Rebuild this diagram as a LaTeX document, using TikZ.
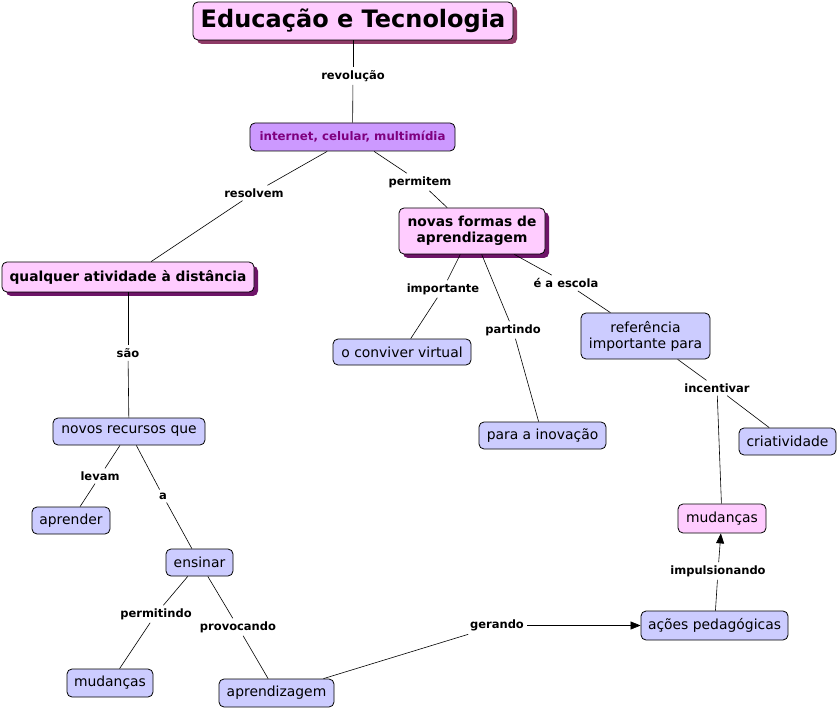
\documentclass[tikz,border=0pt]{standalone}
\usepackage{fontspec}
\setmainfont{DejaVu Sans}
\usetikzlibrary{arrows.meta,shadows}
\definecolor{pinkfill}{HTML}{FFCCFF}
\definecolor{bluefill}{HTML}{CCCCFF}
\definecolor{purplefill}{HTML}{CC99FF}
\definecolor{purpletext}{HTML}{7F007F}
\definecolor{shadowA}{HTML}{8E3A66}
\definecolor{shadowB}{HTML}{6E1468}
\begin{document}
\begin{tikzpicture}[x=1pt,y=-1pt,
  box/.style={draw=black,line width=0.8pt,rounded corners=5pt,inner sep=0pt,align=center},
  bluebox/.style={box,fill=bluefill,font=\fontsize{13.9}{16}\selectfont},
  pinkbox/.style={box,fill=pinkfill,font=\fontsize{13.8}{16}\selectfont\bfseries,
     drop shadow={shadow xshift=4pt,shadow yshift=-4pt,fill=shadowB,opacity=1}},
  lab/.style={font=\fontsize{11.5}{13}\selectfont\bfseries,inner sep=3pt},
  conn/.style={draw=black,line width=0.6pt},
  arr/.style={conn,-{Triangle[length=10pt,width=8pt]}}
]
\useasboundingbox (0,0) rectangle (838,711);
% concepts
\node[box,fill=pinkfill,font=\fontsize{24}{28}\selectfont\bfseries,minimum width=320pt,minimum height=38pt,
  drop shadow={shadow xshift=4pt,shadow yshift=-4pt,fill=shadowA,opacity=1}] (title) at (353,21) {Educação e Tecnologia};
\node[box,fill=purplefill,text=purpletext,font=\fontsize{11.8}{13}\selectfont\bfseries,minimum width=205pt,minimum height=28pt] (inet) at (352.5,137) {internet, celular, multimídia};
\node[pinkbox,minimum width=146pt,minimum height=46pt] (novas) at (472,231) {novas formas de\\aprendizagem};
\node[pinkbox,minimum width=252pt,minimum height=30pt] (qual) at (128,277) {qualquer atividade à distância};
\node[bluebox,minimum width=152pt,minimum height=27pt] (rec) at (129,431.5) {novos recursos que};
\node[bluebox,minimum width=78pt,minimum height=27pt] (apr) at (71,520.5) {aprender};
\node[bluebox,minimum width=67pt,minimum height=27pt] (ens) at (199.5,562.5) {ensinar};
\node[bluebox,minimum width=86pt,minimum height=28pt] (mud1) at (110,683) {mudanças};
\node[bluebox,minimum width=115pt,minimum height=28pt] (aprz) at (276.5,693) {aprendizagem};
\node[bluebox,minimum width=147pt,minimum height=29pt] (acoes) at (714.5,625.5) {ações pedagógicas};
\node[bluebox,fill=pinkfill,minimum width=88pt,minimum height=29pt] (mud2) at (722,518.5) {mudanças};
\node[bluebox,minimum width=97pt,minimum height=27pt] (cri) at (787.5,441.5) {criatividade};
\node[bluebox,minimum width=129pt,minimum height=46pt] (ref) at (645.5,336) {referência\\importante para};
\node[bluebox,minimum width=138pt,minimum height=26pt] (conv) at (402,352) {o conviver virtual};
\node[bluebox,minimum width=127pt,minimum height=27pt] (inov) at (542.5,435.5) {para a inovação};
% linking phrases
\node[lab] (l1) at (353,76) {revolução};
\node[lab] (l2) at (254,193) {resolvem};
\node[lab] (l3) at (420,182) {permitem};
\node[lab] (l4) at (443,289) {importante};
\node[lab] (l5) at (513,330) {partindo};
\node[lab] (l6) at (566,283) {é a escola};
\node[lab] (l7) at (717,388) {incentivar};
\node[lab] (l8) at (128,353) {são};
\node[lab] (l9) at (100,476) {levam};
\node[lab] (l10) at (163,496) {a};
\node[lab] (l11) at (156,614) {permitindo};
\node[lab] (l12) at (238,627) {provocando};
\node[lab] (l13) at (497,625.5) {gerando};
\node[lab] (l14) at (718,571) {impulsionando};
% connectors
\draw[conn] (title) -- (l1); \draw[conn] (l1) -- (inet);
\draw[conn] (inet) -- (l2); \draw[conn] (l2) -- (qual);
\draw[conn] (inet) -- (l3); \draw[conn] (l3) -- (novas);
\draw[conn] (qual) -- (l8); \draw[conn] (l8) -- (rec);
\draw[conn] (rec) -- (l9); \draw[conn] (l9) -- (apr);
\draw[conn] (rec) -- (l10); \draw[conn] (l10) -- (ens);
\draw[conn] (ens) -- (l11); \draw[conn] (l11) -- (mud1);
\draw[conn] (ens) -- (l12); \draw[conn] (l12) -- (aprz);
\draw[conn] (aprz) -- (l13); \draw[arr] (l13) -- (acoes);
\draw[conn] (acoes) -- (l14); \draw[arr] (l14) -- (mud2);
\draw[conn] (ref) -- (l7); \draw[conn] (l7) -- (mud2); \draw[conn] (l7) -- (cri);
\draw[conn] (novas) -- (l6); \draw[conn] (l6) -- (ref);
\draw[conn] (novas) -- (l4); \draw[conn] (l4) -- (conv);
\draw[conn] (novas) -- (l5); \draw[conn] (l5) -- (inov);
\end{tikzpicture}
\end{document}
